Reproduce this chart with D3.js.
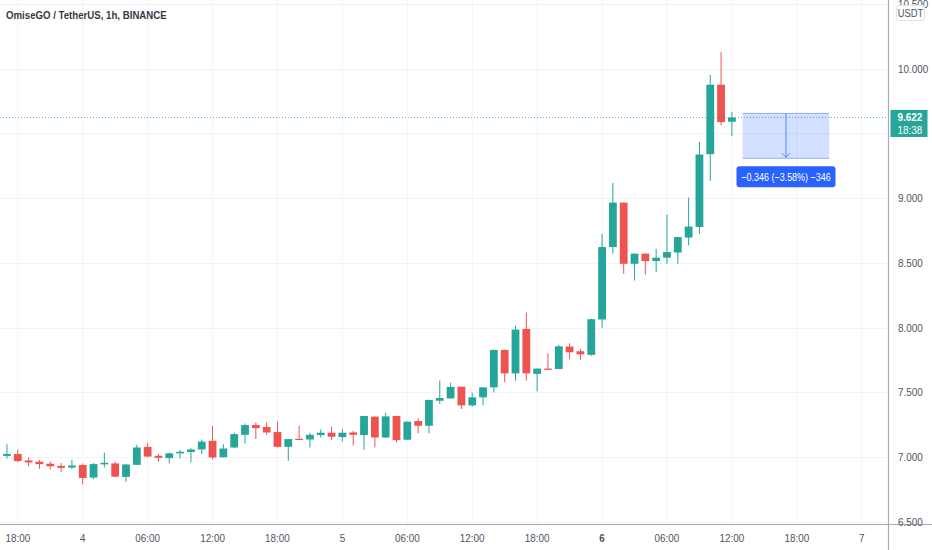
<!DOCTYPE html>
<html>
<head>
<meta charset="utf-8">
<script src="https://cdn.jsdelivr.net/npm/d3@7/dist/d3.min.js"></script>
<style>
  html, body { margin: 0; padding: 0; background: #ffffff; }
  svg { display: block; }
</style>
</head>
<body>
<svg id="chart" width="932" height="550"></svg>
<script>
// ---------- DATA (hourly candles, hour offset 0 = 18:00 on day 3) ----------
const hours = d3.range(-2, 67);
const opens = [6.96,7.01,7.025,6.975,6.965,6.95,6.933,6.92,6.94,6.843,6.945,6.952,6.848,6.941,7.08,7.011,6.993,7.03,7.04,7.06,7.127,7.0,7.075,7.173,7.248,7.233,7.194,7.08,7.142,7.137,7.171,7.189,7.155,7.191,7.171,7.313,7.152,7.318,7.135,7.279,7.243,7.436,7.454,7.544,7.40,7.462,7.539,7.828,7.647,7.99,7.643,7.684,7.681,7.854,7.818,7.79,8.063,8.622,8.965,8.493,8.571,8.514,8.54,8.58,8.695,8.777,9.339,9.875,9.589];
const highs = [7.02,7.10,7.06,7.0,6.978,6.967,6.955,6.98,6.952,6.955,7.035,6.967,6.945,7.096,7.11,7.026,7.035,7.055,7.07,7.137,7.243,7.10,7.19,7.26,7.266,7.27,7.274,7.14,7.243,7.189,7.214,7.235,7.217,7.204,7.32,7.315,7.343,7.32,7.274,7.30,7.445,7.591,7.575,7.545,7.498,7.54,7.83,7.83,8.016,8.117,7.685,7.802,7.867,7.88,7.836,8.07,8.725,9.117,8.966,8.572,8.572,8.609,8.872,8.70,9.004,9.434,9.95,10.127,9.666];
const lows = [6.95,6.99,6.96,6.93,6.91,6.905,6.883,6.91,6.79,6.83,6.92,6.845,6.81,6.94,7.0,6.967,6.952,6.99,6.96,7.025,6.985,6.998,7.07,7.106,7.14,7.173,7.075,6.972,7.135,7.075,7.152,7.132,7.122,7.09,7.057,7.075,7.15,7.114,7.133,7.184,7.184,7.411,7.45,7.372,7.39,7.40,7.50,7.578,7.591,7.591,7.508,7.676,7.68,7.756,7.751,7.782,8.0,8.571,8.416,8.364,8.41,8.428,8.493,8.493,8.635,8.725,9.132,9.563,9.478];
const closes = [7.01,7.025,6.97,6.96,6.947,6.93,6.918,6.936,6.84,6.947,6.957,6.85,6.944,7.075,7.005,6.995,7.03,7.042,7.06,7.12,6.998,7.067,7.178,7.248,7.225,7.191,7.08,7.14,7.135,7.173,7.189,7.158,7.189,7.173,7.318,7.152,7.315,7.132,7.274,7.243,7.442,7.457,7.542,7.40,7.462,7.539,7.828,7.647,7.985,7.647,7.684,7.676,7.856,7.81,7.794,8.065,8.622,8.965,8.493,8.571,8.514,8.54,8.583,8.699,8.78,9.336,9.875,9.586,9.622];

const timeTickHours  = [0, 6, 12, 18, 24, 30, 36, 42, 48, 54, 60, 66, 72, 78];
const timeTickLabels = ["18:00","4","06:00","12:00","18:00","5","06:00","12:00","18:00","6","06:00","12:00","18:00","7"];
const boldTimeLabels = ["6"];

const priceTicks = [6.5, 7.0, 7.5, 8.0, 8.5, 9.0, 9.5, 10.0, 10.5];
const hiddenPriceLabels = [9.5];

const title = "OmiseGO / TetherUS, 1h, BINANCE";
const currency = "USDT";
const lastPrice = 9.622;
const countdown = "18:38";

// measure tool
const measureStartHour = 67, measureEndHour = 75;
const measureTop = 9.653, measureBottom = 9.307;
const measureText = "\u22120.346 (\u22123.58%) \u2212346";

// ---------- LAYOUT ----------
const W = 932, H = 550;
const plotRight = 888.5, plotBottom = 524.5;
const UP = "#26a69a", DOWN = "#ef5350";
const GRID = "#f0f3fa", AXIS = "#a8abb4", TXT = "#50535e";
const FONT = "'Liberation Sans', Arial, sans-serif";

const svg = d3.select("#chart");
const x = d3.scaleLinear().domain([0, 66]).range([17.8, 731.9]);
const y = d3.scaleLinear().domain([6.5, 10]).range([522, 68.5]);

svg.append("rect").attr("width", W).attr("height", H).attr("fill", "#fff");

svg.append("defs").append("clipPath").attr("id", "plotclip")
  .append("rect").attr("x", 0).attr("y", 0).attr("width", plotRight).attr("height", plotBottom);

// grid
const grid = svg.append("g");
grid.selectAll("line.v").data(timeTickHours).join("line")
  .attr("x1", d => x(d)).attr("x2", d => x(d))
  .attr("y1", 0).attr("y2", plotBottom)
  .attr("stroke", GRID).attr("stroke-width", 1);
grid.selectAll("line.h").data(priceTicks).join("line")
  .attr("x1", 0).attr("x2", plotRight)
  .attr("y1", d => Math.round(y(d)) + 0.5).attr("y2", d => Math.round(y(d)) + 0.5)
  .attr("stroke", GRID).attr("stroke-width", 1);

// candles
const candles = hours.map((h, i) => ({h, o: opens[i], hi: highs[i], lo: lows[i], c: closes[i]}));
const cg = svg.append("g").attr("clip-path", "url(#plotclip)");
const bw = 7.8;
cg.selectAll("line.wick").data(candles).join("line")
  .attr("x1", d => x(d.h)).attr("x2", d => x(d.h))
  .attr("y1", d => y(d.hi)).attr("y2", d => y(d.lo))
  .attr("stroke", d => d.c >= d.o ? UP : DOWN).attr("stroke-width", 1);
cg.selectAll("rect.body").data(candles).join("rect")
  .attr("x", d => x(d.h) - bw / 2)
  .attr("width", bw)
  .attr("y", d => y(Math.max(d.o, d.c)))
  .attr("height", d => Math.max(1.2, Math.abs(y(d.o) - y(d.c))))
  .attr("fill", d => d.c >= d.o ? UP : DOWN);

// last price dotted line
svg.append("line")
  .attr("x1", 0).attr("x2", plotRight)
  .attr("y1", y(lastPrice)).attr("y2", y(lastPrice))
  .attr("stroke", UP).attr("stroke-width", 1).attr("stroke-dasharray", "1,2").attr("opacity", 0.75);

// measure tool
const mx0 = x(measureStartHour), mx1 = x(measureEndHour);
const my0 = y(measureTop), my1 = y(measureBottom);
const mg = svg.append("g");
mg.append("rect").attr("x", mx0).attr("y", my0).attr("width", mx1 - mx0).attr("height", my1 - my0)
  .attr("fill", "rgba(41,98,255,0.2)");
mg.append("line").attr("x1", mx0).attr("x2", mx1).attr("y1", my0).attr("y2", my0)
  .attr("stroke", "rgba(41,98,255,0.45)").attr("stroke-width", 1);
mg.append("line").attr("x1", mx0).attr("x2", mx1).attr("y1", my1).attr("y2", my1)
  .attr("stroke", "rgba(41,98,255,0.45)").attr("stroke-width", 1);
const mxm = x((measureStartHour + measureEndHour) / 2);
mg.append("line").attr("x1", mxm).attr("x2", mxm).attr("y1", my0).attr("y2", my1 - 1)
  .attr("stroke", "rgba(41,98,255,0.7)").attr("stroke-width", 1);
mg.append("path")
  .attr("d", `M${mxm - 4},${my1 - 5} L${mxm},${my1 - 1} L${mxm + 4},${my1 - 5}`)
  .attr("fill", "none").attr("stroke", "rgba(41,98,255,0.7)").attr("stroke-width", 1);
const lw = 99, lh = 21;
mg.append("rect").attr("x", mxm - lw / 2).attr("y", my1 + 8).attr("width", lw).attr("height", lh)
  .attr("rx", 3).attr("fill", "#2962ff");
mg.append("text")
  .attr("transform", `translate(${mxm},${my1 + 22.5}) scale(0.78,1)`)
  .attr("text-anchor", "middle").attr("font-family", FONT).attr("font-size", 11.5)
  .attr("fill", "#fff").text(measureText);

// axes lines
svg.append("rect").attr("x", plotRight).attr("y", 0).attr("width", W - plotRight).attr("height", H).attr("fill", "#fff");
svg.append("rect").attr("x", 0).attr("y", plotBottom).attr("width", plotRight).attr("height", H - plotBottom).attr("fill", "#fff");
svg.append("line").attr("x1", plotRight).attr("x2", plotRight).attr("y1", 0).attr("y2", H)
  .attr("stroke", AXIS).attr("stroke-width", 1.2);
svg.append("line").attr("x1", 0).attr("x2", W).attr("y1", plotBottom).attr("y2", plotBottom)
  .attr("stroke", AXIS).attr("stroke-width", 1.2);

// price labels
const fmt = d3.format(".3f");
svg.append("g").selectAll("text").data(priceTicks.filter(d => !hiddenPriceLabels.includes(d))).join("text")
  .attr("transform", d => `translate(898,${y(d) + 4}) scale(0.86,1)`)
  .attr("font-family", FONT).attr("font-size", 11.5).attr("fill", TXT)
  .text(d => fmt(d));

// currency box
svg.append("rect").attr("x", 896.5).attr("y", 5.5).attr("width", 28).attr("height", 15).attr("rx", 2)
  .attr("fill", "#fff").attr("stroke", "#e0e3eb");
svg.append("text").attr("transform", "translate(910.5,17) scale(0.86,1)")
  .attr("text-anchor", "middle").attr("font-family", FONT).attr("font-size", 11).attr("fill", TXT)
  .text(currency);

// last price label
svg.append("rect").attr("x", 890.5).attr("y", y(lastPrice) - 7.5).attr("width", 37).attr("height", 27)
  .attr("fill", UP);
svg.append("text").attr("transform", `translate(897.5,${y(lastPrice) + 4}) scale(0.86,1)`)
  .attr("font-family", FONT).attr("font-size", 11.5).attr("font-weight", "bold").attr("fill", "#fff").text(fmt(lastPrice));
svg.append("text").attr("transform", `translate(897.5,${y(lastPrice) + 16.5}) scale(0.86,1)`)
  .attr("font-family", FONT).attr("font-size", 11.5).attr("fill", "#fff").text(countdown);

// time labels
svg.append("g").selectAll("text").data(timeTickHours).join("text")
  .attr("transform", d => `translate(${x(d)},542) scale(0.86,1)`)
  .attr("text-anchor", "middle").attr("font-family", FONT).attr("font-size", 11.5)
  .attr("font-weight", (d, i) => boldTimeLabels.includes(timeTickLabels[i]) ? "bold" : "normal")
  .attr("fill", TXT)
  .text((d, i) => timeTickLabels[i]);

// title
svg.append("text").attr("transform", "translate(6,19) scale(0.84,1)")
  .attr("font-family", FONT).attr("font-size", 11.5).attr("font-weight", "bold").attr("fill", "#363a45")
  .text(title);
</script>
</body>
</html>
